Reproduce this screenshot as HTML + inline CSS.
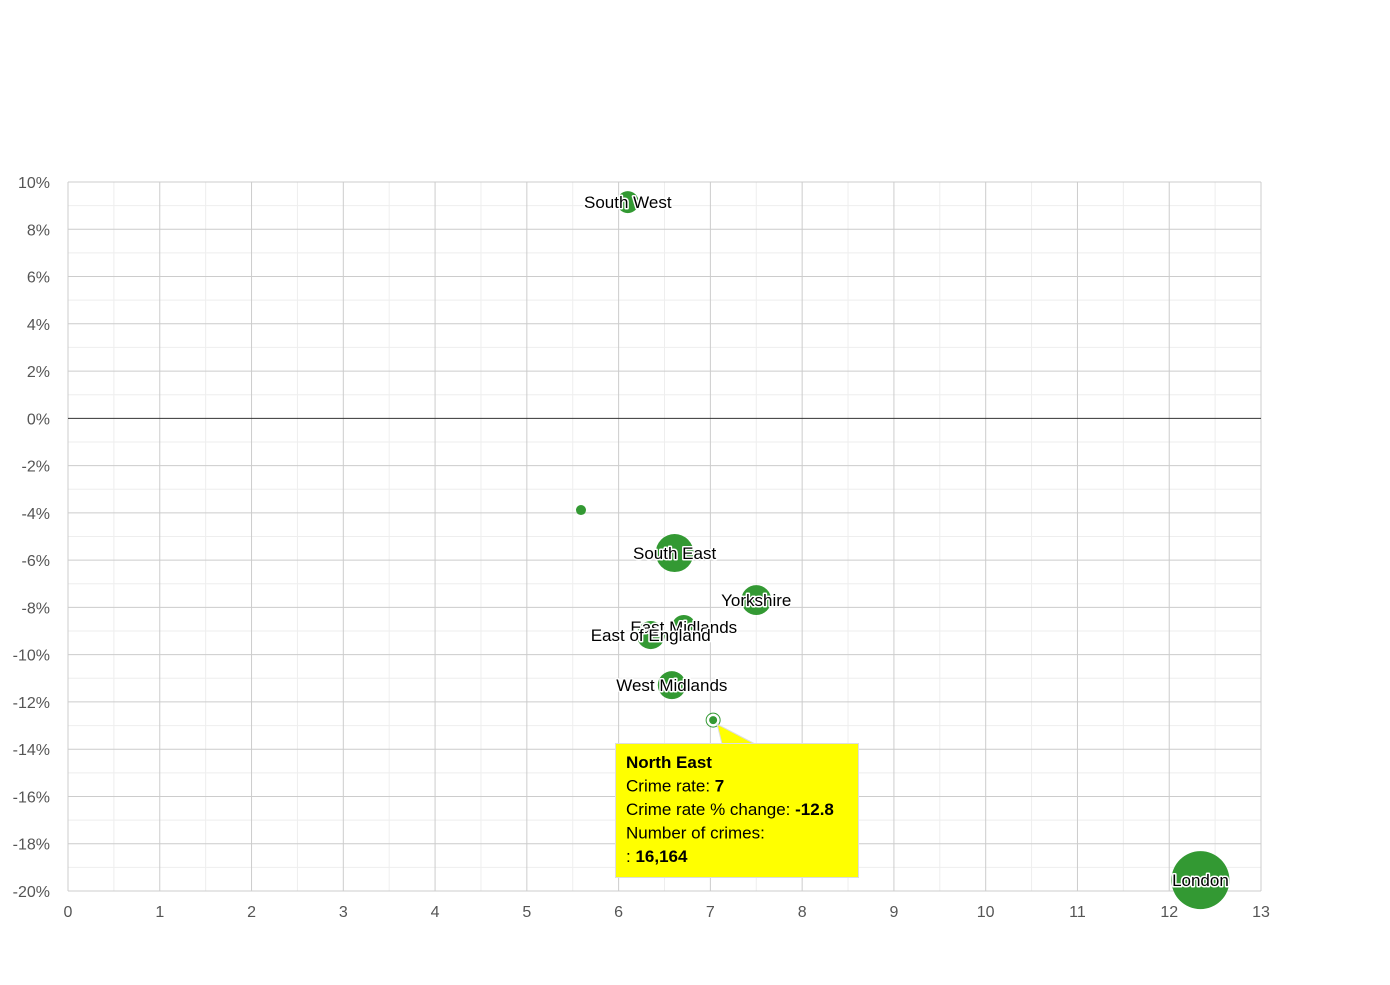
<!DOCTYPE html>
<html><head><meta charset="utf-8"><style>
body{margin:0;background:#fff;font-family:"Liberation Sans",sans-serif}
svg text{font-family:"Liberation Sans",sans-serif}
</style></head><body>
<svg id="c" width="1390" height="980" xmlns="http://www.w3.org/2000/svg"></svg>
<script>
const regions=["South West","","South East","Yorkshire","East Midlands","East of England","West Midlands","North East","London"];
const crimeRate=[6.10,5.59,6.61,7.50,6.71,6.35,6.58,7.03,12.34];
const rateChange=[9.15,-3.88,-5.7,-7.69,-8.83,-9.17,-11.29,-12.77,-19.54];
const crimes=[78000,16164,233000,145000,93000,127000,127000,16164,544000];
const xTicks=[0,1,2,3,4,5,6,7,8,9,10,11,12,13];
const yTicks=[10,8,6,4,2,0,-2,-4,-6,-8,-10,-12,-14,-16,-18,-20];
const X0=68,X1=1261,Y0=182,Y1=891;
const xs=v=>X0+(v-0)/13*(X1-X0);
const ys=v=>Y0+(10-v)/30*(Y1-Y0);
const rs=c=>5*Math.sqrt(c/16164);
const svg=document.getElementById('c');const NS="http://www.w3.org/2000/svg";
function mk(t,a,p){const e=document.createElementNS(NS,t);for(const k in a)e.setAttribute(k,a[k]);(p||svg).appendChild(e);return e;}
const g=mk('g',{});


for(let v=0;v<13;v+=0.5){if(v%1)mk('line',{x1:xs(v),x2:xs(v),y1:Y0,y2:Y1,stroke:'#eeeeee'},g);}
for(let v=-20;v<10;v+=1){if(v%2)mk('line',{x1:X0,x2:X1,y1:ys(v),y2:ys(v),stroke:'#eeeeee'},g);}
xTicks.forEach(v=>{mk('line',{x1:xs(v),x2:xs(v),y1:Y0,y2:Y1,stroke:'#cccccc'},g);
const t=mk('text',{x:xs(v),y:917,'text-anchor':'middle','font-size':16,fill:'#555'});t.textContent=v;

});
yTicks.forEach(v=>{mk('line',{x1:X0,x2:X1,y1:ys(v),y2:ys(v),stroke:v===0?'#333':'#cccccc'},g);
const t=mk('text',{x:50,y:ys(v)+6,'text-anchor':'end','font-size':16,fill:'#555'});t.textContent=v+'%';

});
regions.forEach((n,i)=>{
const c=mk('circle',{cx:xs(crimeRate[i]),cy:ys(rateChange[i]),r:rs(crimes[i]),fill:'#339933'});


if(i===7){c.setAttribute('stroke','#fff');c.setAttribute('stroke-width','2');mk('circle',{cx:xs(crimeRate[i]),cy:ys(rateChange[i]),r:7,fill:'none',stroke:'#339933'});}
});
regions.forEach((n,i)=>{if(!n||i===7)return;
const t=mk('text',{x:xs(crimeRate[i]),y:ys(rateChange[i])+6,'text-anchor':'middle','font-size':17,fill:'#000',stroke:'#fff','stroke-width':3,'paint-order':'stroke','stroke-linejoin':'round'});t.textContent=n;

});
const tg=mk('g',{});


const px=xs(crimeRate[7]),py=ys(rateChange[7]);
mk('path',{d:`M${px+4} ${py+4} L755 744 L722 744 Z`,fill:'#ffff00',stroke:'#ddd'},tg);
mk('rect',{x:615.5,y:743.5,width:243,height:134,fill:'#ffff00',stroke:'#ddd'},tg);
const lines=[["North East",""],["Crime rate: ","7"],["Crime rate % change: ","-12.8"],["Number of crimes:",""],[": ","16,164"]];
lines.forEach((l,i)=>{const t=mk('text',{x:626,y:768+i*23.5,'font-size':17,fill:'#000'},tg);
if(i===0){t.setAttribute('font-weight','bold');t.textContent=l[0];}
else{t.textContent=l[0];const b=mk('tspan',{'font-weight':'bold'},t);b.textContent=l[1];}});
</script>
</body></html>
